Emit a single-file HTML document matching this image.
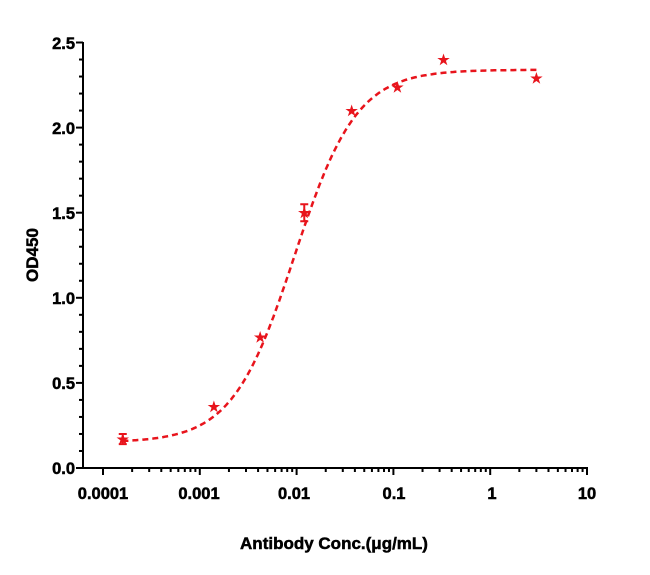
<!DOCTYPE html>
<html><head><meta charset="utf-8"><style>
body{margin:0;background:#fff}
svg{display:block;font-family:"Liberation Sans",Arial,sans-serif;font-weight:bold}
</style></head><body>
<svg id="s" width="650" height="575" xmlns="http://www.w3.org/2000/svg">
<g stroke="#000" stroke-width="2" fill="none" id="ax">
<line x1="83" y1="42" x2="83" y2="469"/>
<line x1="82" y1="468" x2="588" y2="468"/>
</g>
<g font-size="16.5" text-anchor="end" fill="#000" stroke="#000" stroke-width="0.5">
<text x="75" y="49">2.5</text><text x="75" y="134">2.0</text><text x="75" y="219">1.5</text>
<text x="75" y="304">1.0</text><text x="75" y="389">0.5</text><text x="75" y="474">0.0</text>
</g>
<g font-size="16.5" text-anchor="middle" fill="#000" stroke="#000" stroke-width="0.5">
<text x="103" y="499">0.0001</text><text x="199" y="499">0.001</text><text x="294" y="499">0.01</text>
<text x="394" y="499">0.1</text><text x="492" y="499">1</text><text x="587" y="499">10</text>
<text x="334" y="549" font-size="17">Antibody Conc.(μg/mL)</text>
<text transform="translate(38,255) rotate(-90)" font-size="17">OD450</text>
</g>
<path id="c" fill="none" stroke="#e8141c" stroke-width="2.5" stroke-dasharray="6,4"/>
<g id="p" fill="#e8141c" stroke="#e8141c"></g>
</svg>
<script>
var X=function(c){return 103+(Math.log10(c)+4)*96.8},Y=function(v){return 468-v*170.2};
var ax=document.getElementById('ax'),ns='http://www.w3.org/2000/svg';
function ln(a,b,c,d){var l=document.createElementNS(ns,'line');l.setAttribute('x1',a);l.setAttribute('y1',b);l.setAttribute('x2',c);l.setAttribute('y2',d);ax.appendChild(l);}
for(var i=0;i<=25;i++){var y=Y(i/10);ln(i%5?79:76,y,83,y);}
for(var e=-4;e<=1;e++){for(var k=1;k<10;k++){if(e==1&&k>1)break;var x=X(k*Math.pow(10,e));ln(x,468,x,k==1?475:472);}}
var d='';for(var lx=-3.8;lx<=0.5;lx+=0.02){var c=Math.pow(10,lx);var v=0.15+(2.19)/(1+Math.pow(0.0095/c,1.35));d+=(d?'L':'M')+X(c).toFixed(1)+','+Y(v).toFixed(1);}
document.getElementById('c').setAttribute('d',d);
var pts=[[0.00016,0.17,0.03],[0.0014,0.36,0],[0.0042,0.77,0],[0.012,1.5,0.05],[0.037,2.1,0],[0.11,2.24,0],[0.33,2.4,0],[3,2.29,0]];
var g=document.getElementById('p');
pts.forEach(function(p){var x=X(p[0]),y=Y(p[1]);
if(p[2]){var l=document.createElementNS(ns,'path');l.setAttribute('d','M'+(x-4)+','+Y(p[1]+p[2])+'h8M'+x+','+Y(p[1]+p[2])+'V'+Y(p[1]-p[2])+'M'+(x-4)+','+Y(p[1]-p[2])+'h8');l.setAttribute('stroke-width','2');l.setAttribute('fill','none');g.appendChild(l);}
var t=document.createElementNS(ns,'text');t.setAttribute('x',x);t.setAttribute('y',y+5);t.setAttribute('font-size','14');t.setAttribute('text-anchor','middle');t.setAttribute('stroke','none');t.textContent='★';g.appendChild(t);});
</script>
</body></html>
